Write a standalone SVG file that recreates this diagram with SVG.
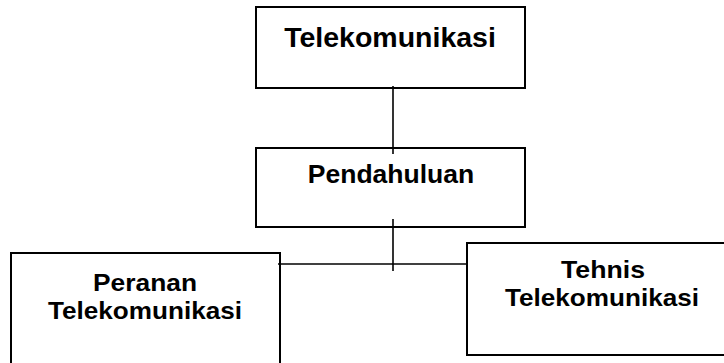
<svg xmlns="http://www.w3.org/2000/svg" width="724" height="363" viewBox="0 0 724 363">
<style>
.box{fill:#fff;stroke:#000;stroke-width:2}
.ln{stroke:#000;stroke-width:1.6;fill:none}
text{font-family:"Liberation Sans",Arial,sans-serif;font-weight:bold;fill:#000;text-anchor:middle}
.sm{font-size:24px}
</style>
<rect width="724" height="363" fill="#fff"/>
<g id="node-telekomunikasi">
<rect class="box" x="256" y="7" width="269" height="81"/>
<text x="390" y="47" font-size="28.5">Telekomunikasi</text>
</g>
<g id="node-pendahuluan">
<rect class="box" x="256" y="148" width="269" height="79"/>
<text x="391" y="183" font-size="26.5">Pendahuluan</text>
</g>
<g id="node-peranan">
<rect class="box" x="11" y="253" width="269" height="125"/>
<text class="sm" x="145" y="291" textLength="104" lengthAdjust="spacingAndGlyphs">Peranan</text>
<text class="sm" x="145" y="319" textLength="194" lengthAdjust="spacingAndGlyphs">Telekomunikasi</text>
</g>
<g id="node-tehnis">
<rect class="box" x="467" y="243" width="275" height="112"/>
<text class="sm" x="603" y="278" textLength="84" lengthAdjust="spacingAndGlyphs">Tehnis</text>
<text class="sm" x="602" y="306" textLength="194" lengthAdjust="spacingAndGlyphs">Telekomunikasi</text>
</g>
<g id="connectors">
<line class="ln" x1="393" y1="86" x2="393" y2="154"/>
<line class="ln" x1="393" y1="219" x2="393" y2="271"/>
<line class="ln" x1="278" y1="264" x2="467" y2="264"/>
</g>
</svg>
